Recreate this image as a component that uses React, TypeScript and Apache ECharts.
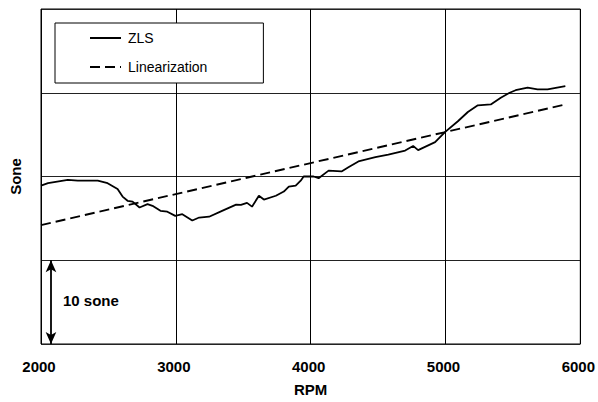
import React, { useEffect, useRef } from "react";
import * as echarts from "echarts";

const rpmZLS = [2000, 2052, 2199, 2273, 2421, 2494, 2568, 2605, 2642, 2679, 2731, 2790, 2827, 2886, 2937, 2996, 3048, 3122, 3173, 3247, 3343, 3447, 3483, 3528, 3565, 3616, 3653, 3742, 3801, 3838, 3889, 3926, 3948, 3970, 4022, 4059, 4133, 4229, 4280, 4354, 4480, 4576, 4701, 4760, 4797, 4923, 4996, 5092, 5166, 5240, 5336, 5410, 5476, 5520, 5609, 5683, 5757, 5889];
const soneZLS = [18.9, 19.2, 19.6, 19.5, 19.5, 19.2, 18.5, 17.6, 17.1, 17.0, 16.3, 16.7, 16.5, 15.9, 15.8, 15.3, 15.5, 14.75, 15.1, 15.2, 15.9, 16.65, 16.6, 16.85, 16.4, 17.7, 17.25, 17.7, 18.2, 18.8, 18.9, 19.5, 20.0, 20.0, 20.0, 19.8, 20.7, 20.6, 21.1, 21.8, 22.3, 22.6, 23.1, 23.65, 23.15, 24.1, 25.3, 26.6, 27.7, 28.5, 28.6, 29.4, 30.0, 30.3, 30.6, 30.4, 30.4, 30.8];
const rpmLin = [2000, 5889];
const soneLin = [14.2, 28.6];
const xTicks = [2000, 3000, 4000, 5000, 6000];
const arrowX = 2074;
const arrowSpan = [0, 10];

export default function App() {
  const ref = useRef<HTMLDivElement>(null);
  useEffect(() => {
    const chart = echarts.init(ref.current!, null, { renderer: "svg" });
    const font = "Liberation Sans, Arial, sans-serif";
    chart.setOption({
      animation: false,
      backgroundColor: "#fff",
      textStyle: { fontFamily: font },
      grid: { left: 41, right: 15, top: 9, bottom: 56, show: true, borderColor: "#000", borderWidth: 1, backgroundColor: "transparent" },
      legend: {
        orient: "vertical",
        left: 55,
        top: 23,
        padding: [8, 56, 9, 34],
        itemGap: 15,
        itemWidth: 31,
        itemHeight: 14,
        borderColor: "#000",
        borderWidth: 1,
        backgroundColor: "#fff",
        itemStyle: { opacity: 0 },
        textStyle: { fontFamily: font, fontSize: 14, color: "#000", padding: [0, 0, 0, 2] },
        data: ["ZLS", "Linearization"],
      },
      xAxis: {
        type: "value",
        min: 2000,
        max: 6000,
        interval: 1000,
        name: "RPM",
        nameLocation: "middle",
        nameGap: 38,
        nameTextStyle: { fontFamily: font, fontSize: 15, fontWeight: "bold", color: "#000" },
        axisLine: { show: false },
        axisTick: { show: false },
        axisLabel: {
          fontFamily: font, fontSize: 15, fontWeight: "bold", color: "#000", margin: 15,
          padding: [0, 4, 0, 0],
          formatter: (v: number) => (xTicks.includes(v) ? String(v) : ""),
        },
        splitLine: { show: true, lineStyle: { color: "#000", width: 1 } },
      },
      yAxis: {
        type: "value",
        min: 0,
        max: 40,
        interval: 10,
        name: "Sone",
        nameLocation: "middle",
        nameGap: 18,
        nameTextStyle: { fontFamily: font, fontSize: 15, fontWeight: "bold", color: "#000" },
        axisLine: { show: false },
        axisTick: { show: false },
        axisLabel: { show: false },
        splitLine: { show: true, lineStyle: { color: "#222", width: 1 } },
      },
      series: [
        {
          name: "ZLS",
          type: "line",
          data: rpmZLS.map((x, i) => [x, soneZLS[i]]),
          symbol: "none",
          lineStyle: { color: "#000", width: 1.8 },
          itemStyle: { color: "#000" },
          markLine: {
            silent: true,
            symbol: ["arrow", "arrow"],
            symbolSize: [8, 12],
            label: { show: false },
            lineStyle: { color: "#000", width: 1.8, type: "solid" },
            data: [[{ coord: [arrowX, arrowSpan[0]] }, { coord: [arrowX, arrowSpan[1]] }]],
          },
        },
        {
          name: "Linearization",
          type: "line",
          data: rpmLin.map((x, i) => [x, soneLin[i]]),
          symbol: "none",
          lineStyle: { color: "#000", width: 1.9, type: [10, 5] },
          itemStyle: { color: "#000" },
        },
      ],
      graphic: [
        {
          type: "text",
          left: 63,
          top: 293,
          style: { text: "10 sone", fontFamily: font, fontSize: 15, fontWeight: "bold", fill: "#000" },
        },
      ],
    });
    return () => chart.dispose();
  }, []);
  return (
    <div style={{ position: "fixed", left: 0, top: 0 }}>
      <div ref={ref} style={{ width: 598, height: 402 }} />
    </div>
  );
}
